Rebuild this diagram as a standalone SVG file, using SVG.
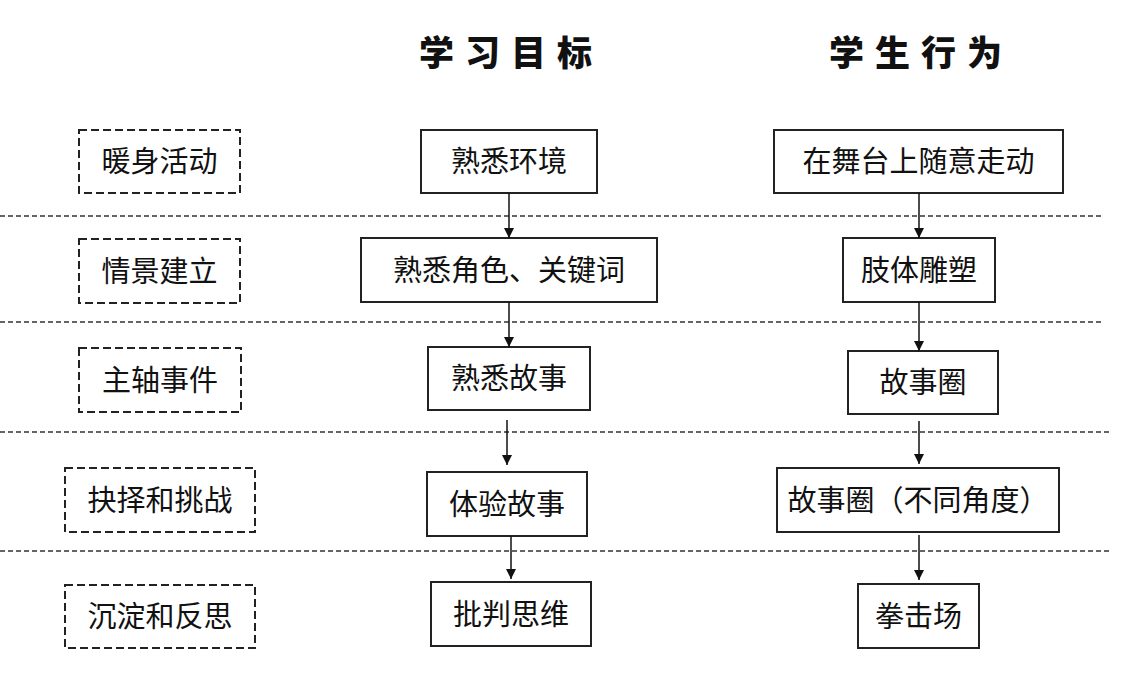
<svg xmlns="http://www.w3.org/2000/svg" width="1129" height="678" viewBox="0 0 1129 678">
<style>
text{font-family:"Noto Sans CJK SC","Noto Sans",sans-serif;font-size:29px;fill:#111;text-anchor:middle}
.title{font-size:35px;font-weight:900;text-anchor:start;letter-spacing:11px}
.box{fill:#fff;stroke:#222;stroke-width:2}
.dbox{fill:#fff;stroke:#222;stroke-width:2;stroke-dasharray:8 4}
.sep{stroke:#333;stroke-width:1.3;stroke-dasharray:5 3;fill:none}
.arr{stroke:#111;stroke-width:1.5;fill:none;marker-end:url(#ah)}
</style>
<defs>
<marker id="ah" viewBox="0 0 10 10" refX="10" refY="5" markerWidth="11" markerHeight="10" markerUnits="userSpaceOnUse" orient="auto">
<path d="M0,0 L10,5 L0,10 Z" fill="#111"/>
</marker>
</defs>
<rect width="1129" height="678" fill="#fff"/>
<g id="titles">
<text class="title" x="419" y="66">学习目标</text>
<text class="title" x="829" y="66">学生行为</text>
</g>
<g id="separators">
<line class="sep" x1="0" y1="216" x2="1103" y2="216"/>
<line class="sep" x1="0" y1="322" x2="1103" y2="322"/>
<line class="sep" x1="0" y1="432" x2="1112" y2="432"/>
<line class="sep" x1="0" y1="551" x2="1112" y2="551"/>
</g>
<g id="stage1"><rect class="dbox" x="79" y="130" width="161" height="63"/><text x="159.5" y="172">暖身活动</text></g>
<g id="stage2"><rect class="dbox" x="79" y="239" width="161" height="64"/><text x="159.5" y="282">情景建立</text></g>
<g id="stage3"><rect class="dbox" x="79" y="348" width="162" height="64"/><text x="160" y="391">主轴事件</text></g>
<g id="stage4"><rect class="dbox" x="65" y="468" width="190" height="64"/><text x="160" y="511">抉择和挑战</text></g>
<g id="stage5"><rect class="dbox" x="65" y="585" width="190" height="63"/><text x="160" y="627">沉淀和反思</text></g>
<g id="goal1"><rect class="box" x="421" y="130" width="176" height="63"/><text x="509" y="172">熟悉环境</text></g>
<g id="goal2"><rect class="box" x="361" y="238" width="296" height="64"/><text x="509" y="281">熟悉角色、关键词</text></g>
<g id="goal3"><rect class="box" x="428" y="347" width="162" height="63"/><text x="509" y="389">熟悉故事</text></g>
<g id="goal4"><rect class="box" x="427" y="472" width="160" height="64"/><text x="507" y="515">体验故事</text></g>
<g id="goal5"><rect class="box" x="431" y="582" width="160" height="64"/><text x="511" y="625">批判思维</text></g>
<g id="act1"><rect class="box" x="774" y="130" width="289" height="63"/><text x="918.5" y="172">在舞台上随意走动</text></g>
<g id="act2"><rect class="box" x="843" y="238" width="152" height="64"/><text x="919" y="281">肢体雕塑</text></g>
<g id="act3"><rect class="box" x="848" y="351" width="150" height="63"/><text x="923" y="393">故事圈</text></g>
<g id="act4"><rect class="box" x="777" y="468" width="282" height="64"/><text x="918" y="511">故事圈（不同角度）</text></g>
<g id="act5"><rect class="box" x="858" y="584" width="121" height="64"/><text x="918.5" y="627">拳击场</text></g>
<g id="connectors">
<line class="arr" x1="509" y1="193" x2="509" y2="238"/>
<line class="arr" x1="509" y1="302" x2="509" y2="347"/>
<line class="arr" x1="507" y1="420" x2="507" y2="465"/>
<line class="arr" x1="511" y1="536" x2="511" y2="579"/>
<line class="arr" x1="919" y1="193" x2="919" y2="238"/>
<line class="arr" x1="919" y1="302" x2="919" y2="351"/>
<line class="arr" x1="919" y1="421" x2="919" y2="464"/>
<line class="arr" x1="919" y1="535" x2="919" y2="580"/>
</g>
</svg>
